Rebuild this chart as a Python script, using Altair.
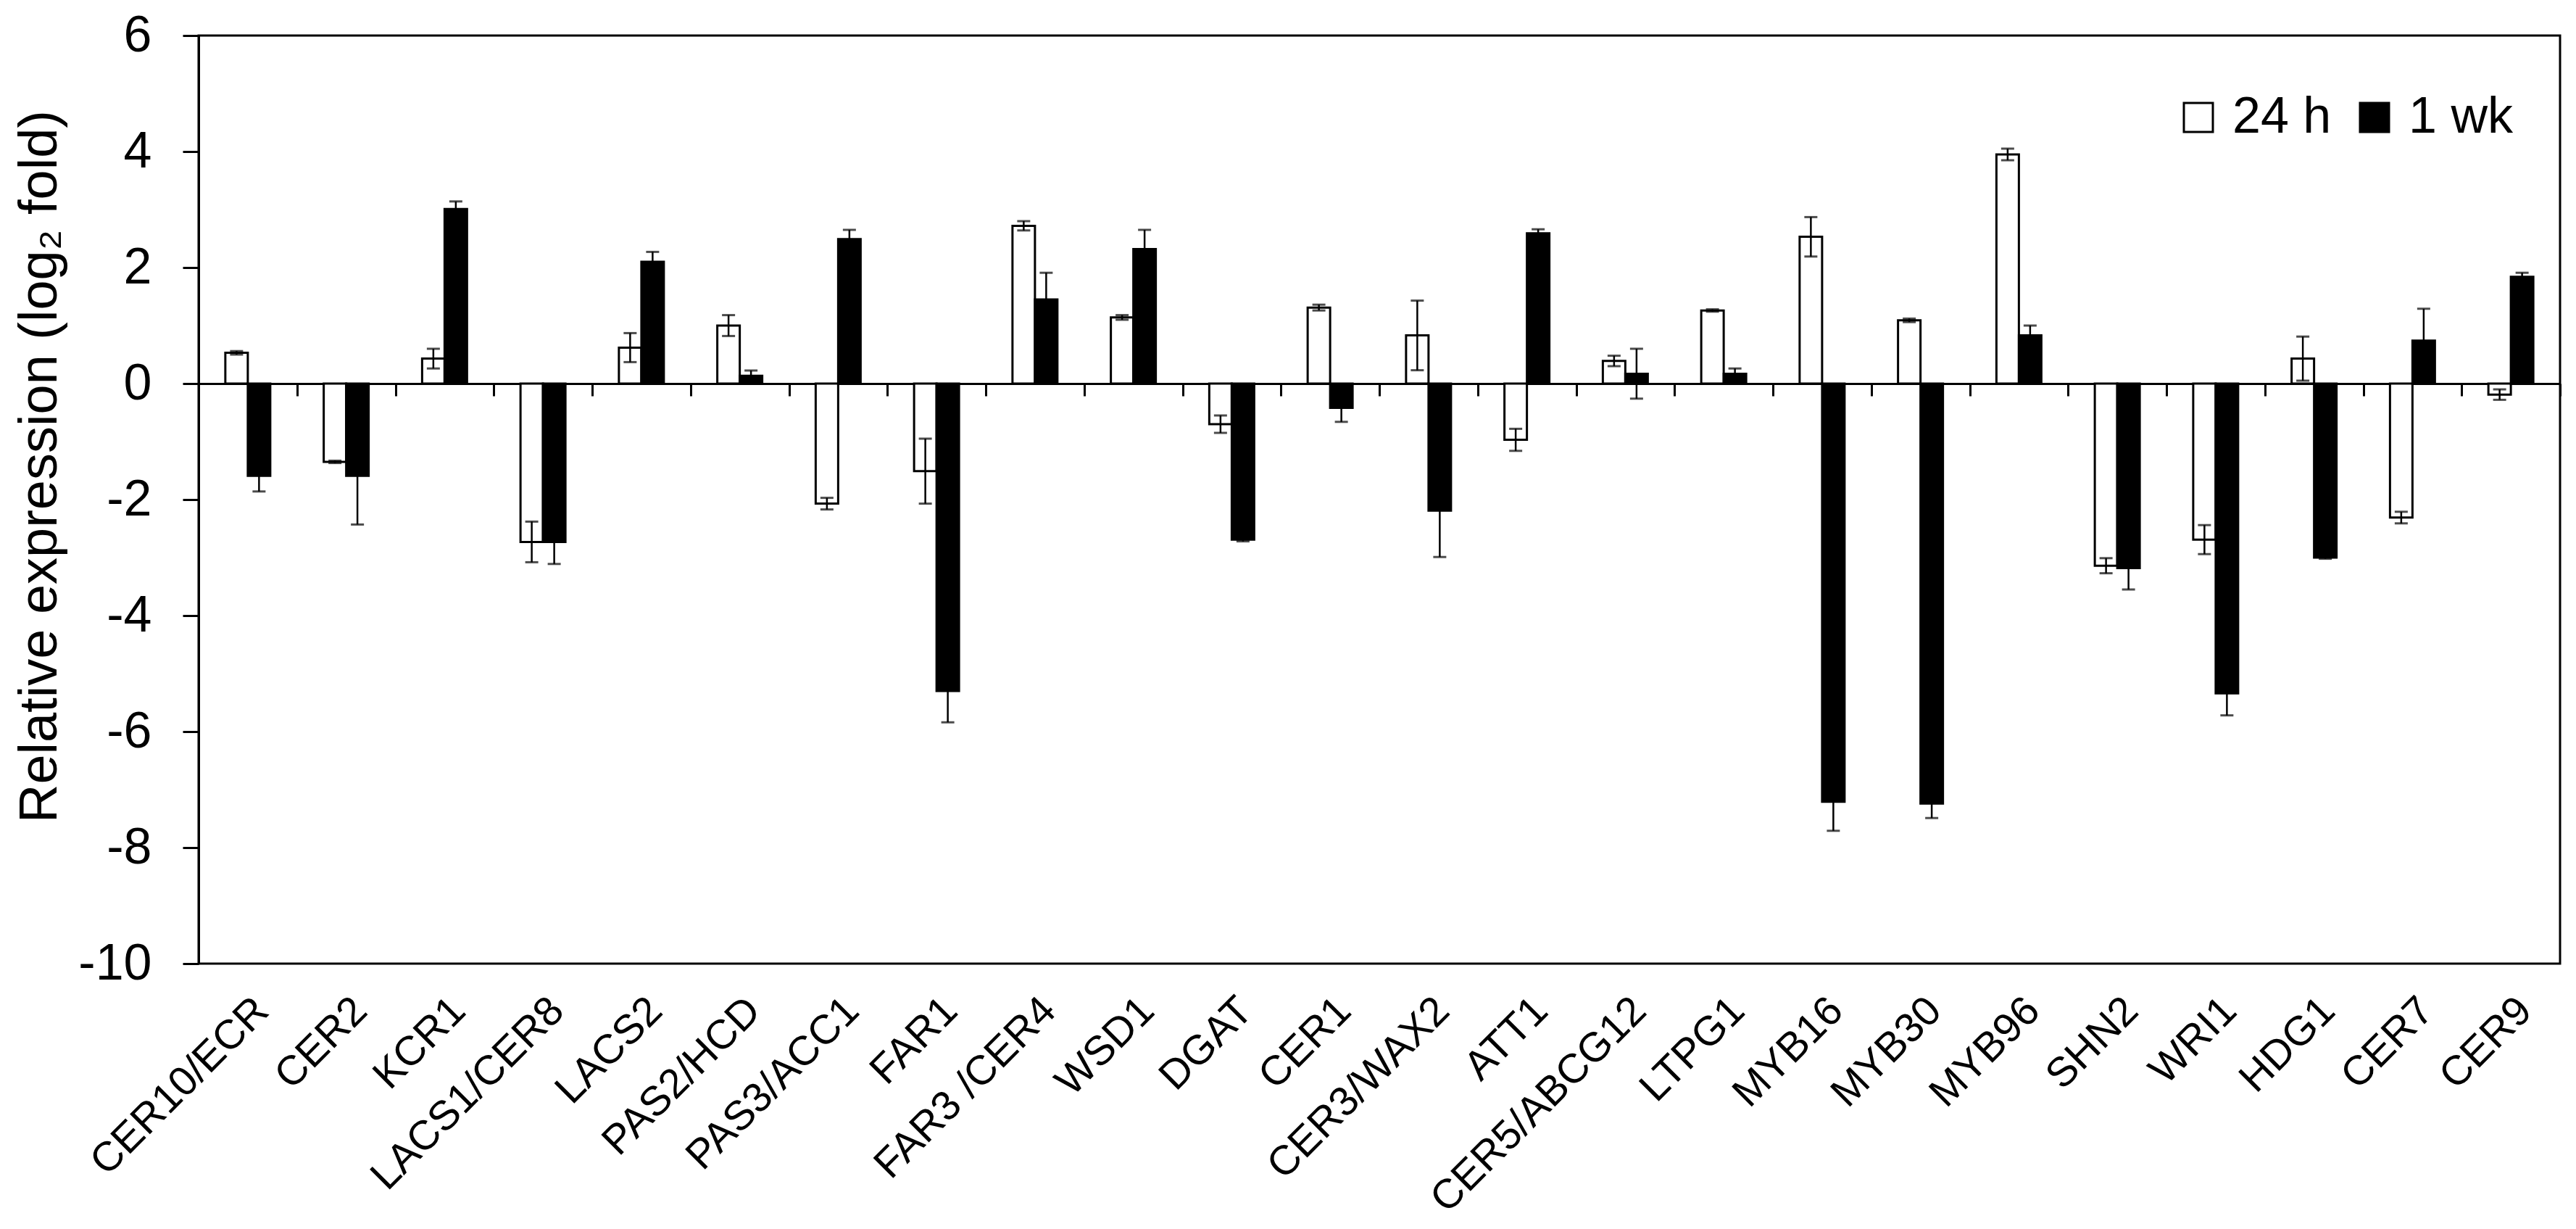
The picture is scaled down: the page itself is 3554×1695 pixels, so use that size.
import altair as alt
import pandas as pd

genes = ["CER10/ECR", "CER2", "KCR1", "LACS1/CER8", "LACS2", "PAS2/HCD", "PAS3/ACC1",
         "FAR1", "FAR3 /CER4", "WSD1", "DGAT", "CER1", "CER3/WAX2", "ATT1",
         "CER5/ABCG12", "LTPG1", "MYB16", "MYB30", "MYB96", "SHN2", "WRI1", "HDG1",
         "CER7", "CER9"]
series = ["24 h", "1 wk"]
h24 = [0.53, -1.35, 0.43, -2.73, 0.62, 1.00, -2.07, -1.51, 2.72, 1.14, -0.70, 1.31,
       0.83, -0.97, 0.39, 1.26, 2.53, 1.09, 3.95, -3.14, -2.69, 0.43, -2.31, -0.19]
h24_err = [0.03, 0.02, 0.17, 0.35, 0.25, 0.18, 0.10, 0.56, 0.08, 0.04, 0.15, 0.05,
           0.60, 0.19, 0.09, 0.02, 0.34, 0.03, 0.10, 0.13, 0.25, 0.38, 0.10, 0.09]
wk1 = [-1.59, -1.59, 3.01, -2.73, 2.10, 0.135, 2.49, -5.30, 1.45, 2.32, -2.69, -0.42,
       -2.19, 2.59, 0.17, 0.17, -7.21, -7.24, 0.83, -3.18, -5.34, -3.00, 0.74, 1.84]
wk1_err = [0.27, 0.84, 0.13, 0.38, 0.17, 0.09, 0.16, 0.54, 0.46, 0.33, 0.03, 0.24,
           0.80, 0.07, 0.43, 0.09, 0.50, 0.25, 0.17, 0.37, 0.38, 0.02, 0.55, 0.07]
y_ticks = [-10, -8, -6, -4, -2, 0, 2, 4, 6]

rows = []
for i, g in enumerate(genes):
    for s, vals, errs in ((series[0], h24, h24_err), (series[1], wk1, wk1_err)):
        v, e = vals[i], errs[i]
        rows.append({"gene": g, "series": s, "value": v, "err": e,
                     "lo": v - e, "hi": v + e})
df = pd.DataFrame(rows)

FONT = "Liberation Sans"
W, H = 3258, 1280
STEP = W / len(genes)
BAR_W = 31

xscale = alt.Scale(domain=genes, paddingInner=0, paddingOuter=0)
yscale = alt.Scale(domain=[-10, 6], nice=False, zero=False)
yaxis = alt.Axis(values=y_ticks, title="Relative expression (log₂ fold)",
                 labelExpr="'' + datum.value",
                 grid=False, tickSize=22, tickWidth=3, tickColor="black",
                 domainWidth=3, domainColor="black", labelPadding=43,
                 labelFontSize=70, titleFontSize=74, titleFontWeight="normal",
                 titlePadding=14, titleY=594, labelColor="black", titleColor="black",
                 labelFont=FONT, titleFont=FONT)
xoff = alt.XOffset("series:N", sort=series,
                   scale=alt.Scale(domain=series, paddingInner=0, paddingOuter=0,
                                   range=[STEP / 2 - BAR_W, STEP / 2 + BAR_W]))

base = alt.Chart(df)

bars = base.mark_bar(stroke="black", strokeWidth=3).encode(
    x=alt.X("gene:N", sort=genes, scale=xscale,
            axis=alt.Axis(title=None, labelAngle=-45, ticks=False, domain=False,
                          labelPadding=36, labelFontSize=57, labelFont=FONT,
                          labelColor="black", labelLimit=2000, grid=False)),
    xOffset=xoff,
    y=alt.Y("value:Q", scale=yscale, axis=yaxis),
    color=alt.Color("series:N", sort=series,
                    scale=alt.Scale(domain=series, range=["white", "black"]),
                    legend=alt.Legend(title=None, orient="none", direction="horizontal",
                                      legendX=2724, legendY=78, symbolType="square",
                                      symbolSize=1600, symbolStrokeColor="black",
                                      symbolStrokeWidth=3, labelFontSize=70,
                                      labelFont=FONT, labelColor="black",
                                      labelOffset=12, columnPadding=24, padding=0,
                                      labelLimit=1000)),
)

err_rule = base.mark_rule(color="black", strokeWidth=2.5).encode(
    x=alt.X("gene:N", sort=genes, scale=xscale,
            axis=alt.Axis(title=None, orient="bottom", offset=-800, labels=False,
                          ticks=True, tickBand="extent", tickSize=17, tickWidth=3,
                          tickColor="black", domainWidth=3, domainColor="black",
                          grid=False)),
    xOffset=xoff,
    y=alt.Y("lo:Q", scale=yscale, axis=yaxis),
    y2="hi:Q",
)

cap_hi = base.mark_tick(color="black", size=18, thickness=3).encode(
    x=alt.X("gene:N", sort=genes, scale=xscale, axis=None),
    xOffset=xoff,
    y=alt.Y("hi:Q", scale=yscale, axis=yaxis),
)
cap_lo = base.mark_tick(color="black", size=18, thickness=3).encode(
    x=alt.X("gene:N", sort=genes, scale=xscale, axis=None),
    xOffset=xoff,
    y=alt.Y("lo:Q", scale=yscale, axis=yaxis),
)

chart = alt.layer(bars, err_rule, cap_hi, cap_lo).resolve_axis(x="independent").properties(
    width=W, height=H,
    background="white",
    autosize=alt.AutoSizeParams(type="none"),
    padding={"left": 266, "top": 41, "right": 14, "bottom": 358},
).configure_view(stroke="black", strokeWidth=3)

chart.save("out.html", embed_options={"renderer": "svg", "actions": False})
